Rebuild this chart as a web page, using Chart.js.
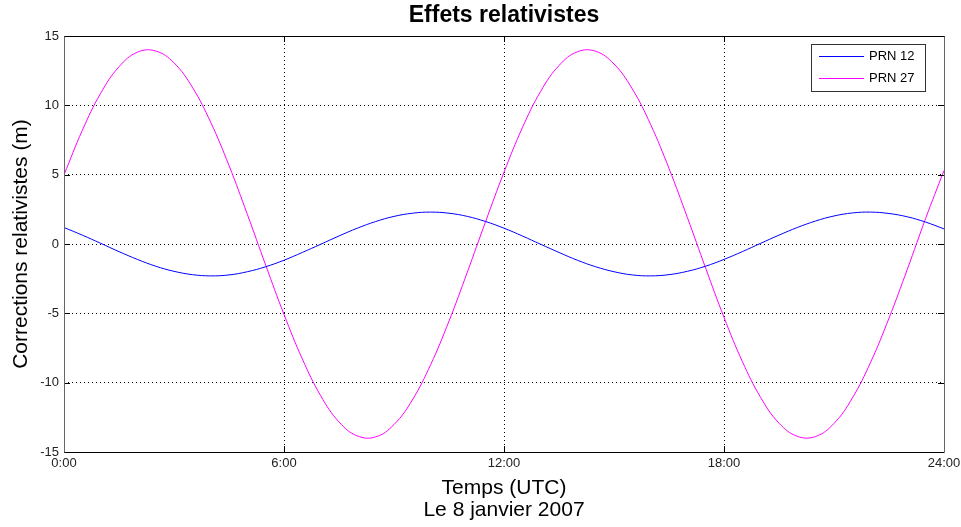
<!DOCTYPE html>
<html lang="fr">
<head>
    <title>Effets relativistes</title>
    <script src="https://cdn.jsdelivr.net/npm/chart.js"></script>
    <style>
        html, body { margin: 0; padding: 0; background: #fff; overflow: hidden; }
        #chartContainer { width: 961px; height: 527px; }
    </style>
</head>
<body>
<div id="chartContainer">
    <canvas id="relChart" width="961" height="527"></canvas>
</div>

<script>
// Heures (UTC), toutes les 30 minutes
const hours = [0, 0.5, 1, 1.5, 2, 2.5, 3, 3.5, 4, 4.5, 5, 5.5, 6, 6.5, 7, 7.5, 8, 8.5, 9, 9.5,
    10, 10.5, 11, 11.5, 12, 12.5, 13, 13.5, 14, 14.5, 15, 15.5, 16, 16.5, 17, 17.5, 18, 18.5, 19, 19.5,
    20, 20.5, 21, 21.5, 22, 22.5, 23, 23.5, 24];

// Corrections relativistes (m)
const prn12 = [1.19, 0.64, 0.05, -0.55, -1.11, -1.60, -1.97, -2.21, -2.30, -2.23, -2.00, -1.64, -1.17, -0.61, -0.02, 0.58,
    1.14, 1.62, 1.99, 2.22, 2.30, 2.22, 1.99, 1.62, 1.14, 0.58, -0.02, -0.61, -1.17, -1.64, -2.00, -2.23,
    -2.30, -2.21, -1.97, -1.60, -1.11, -0.55, 0.05, 0.64, 1.19, 1.66, 2.02, 2.24, 2.30, 2.20, 1.96, 1.58, 1.09];

const prn27 = [4.98, 8.20, 10.87, 12.78, 13.83, 13.92, 13.06, 11.31, 8.78, 5.66, 2.14, -1.52, -5.08, -8.29, -10.94, -12.83,
    -13.84, -13.91, -13.02, -11.25, -8.70, -5.56, -2.03, 1.63, 5.18, 8.38, 11.01, 12.87, 13.86, 13.90, 12.98, 11.18,
    8.61, 5.45, 1.92, -1.74, -5.29, -8.47, -11.07, -12.92, -13.87, -13.88, -12.94, -11.11, -8.52, -5.35, -1.82, 1.85, 5.30];

const seriesNames = ['PRN 12', 'PRN 27'];
const seriesColors = ['#0000ff', '#ff00ff'];
const xTicks = [0, 6, 12, 18, 24];
const yTicks = [-15, -10, -5, 0, 5, 10, 15];

const FONT = '"Liberation Sans", Arial, sans-serif';

function toPoints(values) {
    return hours.map((h, i) => ({ x: h, y: values[i] }));
}

// Cadre, graduations internes, titre et légende façon MATLAB
const matlabFrame = {
    id: 'matlabFrame',
    afterDraw(chart) {
        const ctx = chart.ctx;
        const a = chart.chartArea;
        const xs = chart.scales.x;
        const ys = chart.scales.y;
        ctx.save();

        // ticks inward
        ctx.strokeStyle = '#000';
        ctx.lineWidth = 1;
        ctx.beginPath();
        xTicks.forEach(v => {
            const px = Math.round(xs.getPixelForValue(v)) + 0.5;
            ctx.moveTo(px, a.bottom); ctx.lineTo(px, a.bottom - 6);
            ctx.moveTo(px, a.top); ctx.lineTo(px, a.top + 6);
        });
        yTicks.forEach(v => {
            const py = Math.round(ys.getPixelForValue(v)) + 0.5;
            ctx.moveTo(a.left, py); ctx.lineTo(a.left + 6, py);
            ctx.moveTo(a.right, py); ctx.lineTo(a.right - 6, py);
        });
        ctx.stroke();

        // box (left and right edges a bit grey, as in the original)
        const L = Math.round(a.left) + 0.5, T = Math.round(a.top) + 0.5;
        const R = Math.round(a.right) + 0.5, B = Math.round(a.bottom) + 0.5;
        ctx.strokeStyle = '#000';
        ctx.beginPath();
        ctx.moveTo(L, T); ctx.lineTo(R, T);
        ctx.moveTo(L, B); ctx.lineTo(R, B);
        ctx.stroke();
        ctx.strokeStyle = '#666';
        ctx.beginPath();
        ctx.moveTo(L, T); ctx.lineTo(L, B);
        ctx.moveTo(R, T); ctx.lineTo(R, B);
        ctx.stroke();

        // title
        ctx.fillStyle = '#000';
        ctx.font = 'bold 23px ' + FONT;
        ctx.textAlign = 'center';
        ctx.textBaseline = 'middle';
        ctx.fillText('Effets relativistes', (a.left + a.right) / 2, 16);

        // legend
        const lx = a.right - 133, ly = a.top + 8, lw = 114, lh = 47;
        ctx.fillStyle = '#fff';
        ctx.fillRect(lx, ly, lw, lh);
        ctx.strokeStyle = '#333';
        ctx.strokeRect(lx + 0.5, ly + 0.5, lw, lh);
        ctx.font = '13px ' + FONT;
        ctx.textAlign = 'left';
        seriesNames.forEach((name, i) => {
            const y = ly + 12.5 + i * 22;
            ctx.strokeStyle = seriesColors[i];
            ctx.beginPath();
            ctx.moveTo(lx + 8, y); ctx.lineTo(lx + 53, y);
            ctx.stroke();
            ctx.fillStyle = '#000';
            ctx.fillText(name, lx + 58, y);
        });
        ctx.restore();
    }
};

const ctx = document.getElementById('relChart').getContext('2d');
new Chart(ctx, {
    type: 'line',
    data: {
        datasets: seriesNames.map((name, i) => ({
            label: name,
            data: toPoints(i === 0 ? prn12 : prn27),
            borderColor: seriesColors[i],
            borderWidth: 1,
            pointRadius: 0,
            tension: 0.4,
            fill: false
        }))
    },
    options: {
        responsive: false,
        animation: false,
        devicePixelRatio: 1,
        layout: { padding: { top: 36, right: 17, left: 0, bottom: 0 } },
        plugins: {
            legend: { display: false },
            title: { display: false },
            tooltip: { enabled: false }
        },
        scales: {
            x: {
                type: 'linear',
                min: 0,
                max: 24,
                afterBuildTicks: s => { s.ticks = xTicks.map(v => ({ value: v })); },
                afterFit: s => { s.height = 75; s.paddingLeft = 0; s.paddingRight = 0; },
                ticks: {
                    callback: v => v + ':00',
                    color: '#222',
                    font: { family: FONT, size: 13 },
                    padding: 4,
                    maxRotation: 0
                },
                grid: {
                    drawTicks: false,
                    color: '#000',
                    lineWidth: 1
                },
                border: { display: false, dash: [1, 3] },
                title: {
                    display: true,
                    text: ['Temps (UTC)', 'Le 8 janvier 2007'],
                    color: '#000',
                    font: { family: FONT, size: 21, lineHeight: '22px' },
                    padding: { top: 0, bottom: 6 }
                }
            },
            y: {
                min: -15,
                max: 15,
                afterBuildTicks: s => { s.ticks = yTicks.map(v => ({ value: v })); },
                afterFit: s => { s.width = 64; s.paddingTop = 0; s.paddingBottom = 0; },
                ticks: {
                    color: '#222',
                    font: { family: FONT, size: 13 },
                    padding: 5
                },
                grid: {
                    drawTicks: false,
                    color: '#000',
                    lineWidth: 1
                },
                border: { display: false, dash: [1, 3] },
                title: {
                    display: true,
                    text: 'Corrections relativistes (m)',
                    color: '#000',
                    font: { family: FONT, size: 21 },
                    padding: { top: 9, bottom: 0 }
                }
            }
        }
    },
    plugins: [matlabFrame]
});
</script>
</body>
</html>
